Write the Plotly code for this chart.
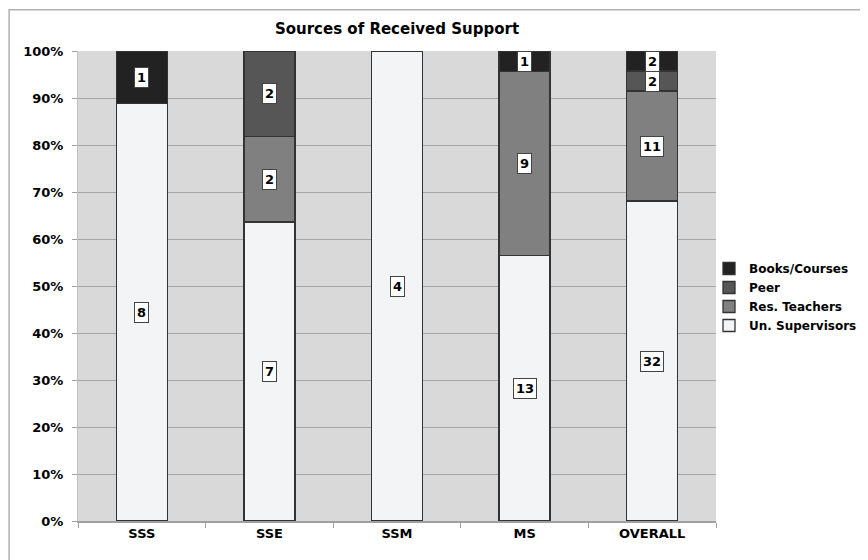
import plotly.graph_objects as go

categories = ["SSS", "SSE", "SSM", "MS", "OVERALL"]
un_supervisors = [8, 7, 4, 13, 32]
res_teachers = [0, 2, 0, 9, 11]
peer = [0, 2, 0, 0, 2]
books_courses = [1, 0, 0, 1, 2]

series = [
    ("Un. Supervisors", un_supervisors, "#f3f4f6"),
    ("Res. Teachers", res_teachers, "#808080"),
    ("Peer", peer, "#565656"),
    ("Books/Courses", books_courses, "#222222"),
]

FONT = "DejaVu Sans"
W, H = 860, 552  # page adds an 8px body margin
fig = go.Figure()
for name, vals, col in series:
    fig.add_trace(go.Bar(
        x=categories, y=[v if v else None for v in vals], name=f"<b>{name}</b>",
        marker=dict(color=col, line=dict(color="#333333", width=1.3)),
        width=0.4,
    ))

# value labels as boxed annotations centred in each segment
totals = [sum(v) for v in zip(*[s[1] for s in series])]
cum = [0.0] * len(categories)
for name, vals, col in series:
    for i, v in enumerate(vals):
        if v > 0:
            pct = v / totals[i] * 100
            fig.add_annotation(
                x=categories[i], y=cum[i] + pct / 2, text=f"<b>{v}</b>",
                showarrow=False, bgcolor="white", bordercolor="#444444",
                borderwidth=1, borderpad=2,
                font=dict(family=FONT, size=13, color="black"),
            )
            cum[i] += pct

fig.add_shape(type="rect", xref="paper", yref="paper",
              x0=-0.108, x1=1.4, y0=-0.3, y1=1.088,
              line=dict(color="#b0b0b0", width=1.5), fillcolor="rgba(0,0,0,0)", layer="below")

fig.update_layout(
    width=W, height=H,
    barmode="stack", barnorm="percent",
    paper_bgcolor="white", plot_bgcolor="#d9d9d9",
    margin=dict(l=70, r=152, t=43, b=39, autoexpand=False),
    title=dict(text="<b>Sources of Received Support</b>", x=0.5, xref="paper",
               xanchor="center", y=1 - 21 / H, yref="container", yanchor="middle",
               font=dict(family=FONT, size=15, color="black")),
    font=dict(family=FONT, color="black"),
    showlegend=True,
    legend=dict(traceorder="reversed", xref="container", yref="container",
                x=(709 - 8) / W, xanchor="left", y=1 - (297 - 8) / H, yanchor="middle",
                font=dict(family=FONT, size=12, color="black"),
                itemwidth=30, tracegroupgap=0, bgcolor="rgba(0,0,0,0)"),
    xaxis=dict(showline=True, linecolor="#a0a0a0", linewidth=1.5, automargin=False,
               ticks="outside", tickson="boundaries", ticklen=5, tickcolor="#a0a0a0",
               tickfont=dict(family=FONT, size=13, color="black"),
               tickvals=categories, ticktext=[f"<b>{c}</b>" for c in categories],
               showgrid=False),
    yaxis=dict(range=[0, 100], tickvals=list(range(0, 101, 10)), automargin=False,
               ticktext=[f"<b>{v}%</b>" for v in range(0, 101, 10)],
               showline=True, linecolor="#c0c0c0", linewidth=1,
               ticks="outside", ticklen=5, tickcolor="#a0a0a0", ticklabelstandoff=6,
               showgrid=True, gridcolor="#a6a6a6", gridwidth=1,
               tickfont=dict(family=FONT, size=13, color="black"),
               zeroline=False),
)

fig.write_html("out.html")
